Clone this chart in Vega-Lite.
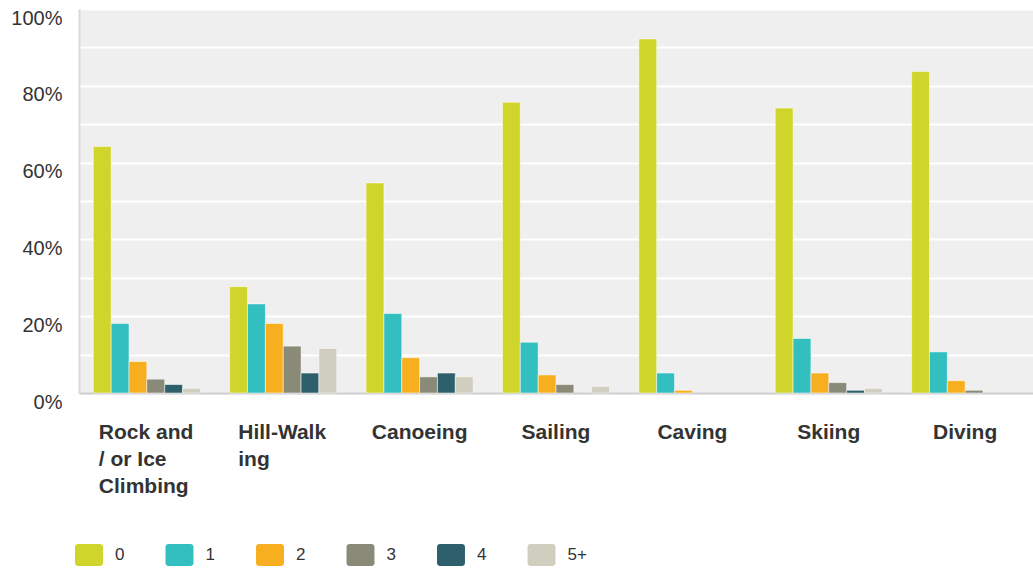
{
  "$schema": "https://vega.github.io/schema/vega-lite/v6.json",
  "width": 954,
  "height": 384,
  "autosize": {"type": "none"},
  "padding": {"left": 79, "top": 9, "right": 0, "bottom": 176},
  "background": "#ffffff",
  "config": {
    "view": {"fill": "#EFEFEF", "stroke": null},
    "font": "Liberation Sans"
  },
  "data": {
    "values": [
      {"activity": "Rock and / or Ice Climbing", "count": "0", "value": 0.642},
      {"activity": "Rock and / or Ice Climbing", "count": "1", "value": 0.181},
      {"activity": "Rock and / or Ice Climbing", "count": "2", "value": 0.082},
      {"activity": "Rock and / or Ice Climbing", "count": "3", "value": 0.036},
      {"activity": "Rock and / or Ice Climbing", "count": "4", "value": 0.022},
      {"activity": "Rock and / or Ice Climbing", "count": "5+", "value": 0.012},
      {"activity": "Hill-Walking", "count": "0", "value": 0.277},
      {"activity": "Hill-Walking", "count": "1", "value": 0.232},
      {"activity": "Hill-Walking", "count": "2", "value": 0.181},
      {"activity": "Hill-Walking", "count": "3", "value": 0.122},
      {"activity": "Hill-Walking", "count": "4", "value": 0.052},
      {"activity": "Hill-Walking", "count": "5+", "value": 0.116},
      {"activity": "Canoeing", "count": "0", "value": 0.547},
      {"activity": "Canoeing", "count": "1", "value": 0.207},
      {"activity": "Canoeing", "count": "2", "value": 0.092},
      {"activity": "Canoeing", "count": "3", "value": 0.042},
      {"activity": "Canoeing", "count": "4", "value": 0.052},
      {"activity": "Canoeing", "count": "5+", "value": 0.042},
      {"activity": "Sailing", "count": "0", "value": 0.757},
      {"activity": "Sailing", "count": "1", "value": 0.132},
      {"activity": "Sailing", "count": "2", "value": 0.047},
      {"activity": "Sailing", "count": "3", "value": 0.022},
      {"activity": "Sailing", "count": "4", "value": 0},
      {"activity": "Sailing", "count": "5+", "value": 0.017},
      {"activity": "Caving", "count": "0", "value": 0.922},
      {"activity": "Caving", "count": "1", "value": 0.052},
      {"activity": "Caving", "count": "2", "value": 0.007},
      {"activity": "Caving", "count": "3", "value": 0},
      {"activity": "Caving", "count": "4", "value": 0},
      {"activity": "Caving", "count": "5+", "value": 0},
      {"activity": "Skiing", "count": "0", "value": 0.742},
      {"activity": "Skiing", "count": "1", "value": 0.142},
      {"activity": "Skiing", "count": "2", "value": 0.052},
      {"activity": "Skiing", "count": "3", "value": 0.027},
      {"activity": "Skiing", "count": "4", "value": 0.007},
      {"activity": "Skiing", "count": "5+", "value": 0.012},
      {"activity": "Diving", "count": "0", "value": 0.837},
      {"activity": "Diving", "count": "1", "value": 0.107},
      {"activity": "Diving", "count": "2", "value": 0.032},
      {"activity": "Diving", "count": "3", "value": 0.007},
      {"activity": "Diving", "count": "4", "value": 0},
      {"activity": "Diving", "count": "5+", "value": 0}
    ]
  },
  "mark": {"type": "bar", "stroke": "#ffffff", "strokeWidth": 1},
  "encoding": {
    "x": {
      "field": "activity",
      "type": "nominal",
      "sort": null,
      "scale": {"paddingInner": 0.215, "paddingOuter": 0.105},
      "axis": {
        "title": null,
        "labelAngle": 0,
        "labelAlign": {"condition": {"test": "datum.value == 'Rock and / or Ice Climbing' || datum.value == 'Hill-Walking'", "value": "left"}, "value": "center"},
        "labelOffset": {"condition": [{"test": "datum.value == 'Rock and / or Ice Climbing'", "value": -48}, {"test": "datum.value == 'Hill-Walking'", "value": -45}], "value": 0},
        "labelBaseline": "top",
        "labelFont": "Liberation Sans",
        "labelFontSize": 21,
        "labelFontWeight": "bold",
        "labelColor": "#333333",
        "labelPadding": 28,
        "labelLineHeight": 27,
        "labelLimit": 300,
        "ticks": false,
        "domainColor": "#cccccc",
        "domainWidth": 2,
        "grid": false,
        "labelExpr": "datum.value == 'Rock and / or Ice Climbing' ? ['Rock and', '/ or Ice', 'Climbing'] : datum.value == 'Hill-Walking' ? ['Hill-Walk', 'ing'] : datum.value"
      }
    },
    "xOffset": {"field": "count", "type": "nominal", "sort": ["0", "1", "2", "3", "4", "5+"], "scale": {"paddingInner": 0, "paddingOuter": 0}},
    "y": {
      "field": "value",
      "type": "quantitative",
      "scale": {"domain": [0, 1], "nice": false, "zero": true},
      "axis": {
        "title": null,
        "values": [0, 0.1, 0.2, 0.3, 0.4, 0.5, 0.6, 0.7, 0.8, 0.9, 1],
        "labelExpr": "round(datum.value * 10) % 2 == 0 ? format(datum.value, '.0%') : ''",
        "labelFont": "Liberation Sans",
        "labelFontSize": 20,
        "labelColor": "#333333",
        "labelPadding": 17,
        "labelOffset": 9,
        "labelFlush": false,
        "labelOverlap": false,
        "ticks": false,
        "domainColor": "#d9d9d9",
        "domainWidth": 2,
        "gridColor": "#ffffff",
        "gridWidth": 2,
        "gridOpacity": 1
      }
    },
    "color": {
      "field": "count",
      "type": "nominal",
      "scale": {
        "domain": ["0", "1", "2", "3", "4", "5+"],
        "range": ["#CFD52A", "#33BEC0", "#F7AF20", "#898A78", "#2D5F6C", "#CFCEBF"]
      },
      "legend": {
        "title": null,
        "orient": "none",
        "direction": "horizontal",
        "columns": 6,
        "legendX": -1,
        "legendY": 535,
        "padding": 0,
        "symbolType": "M-1.0,-1H1.0A0.27,0.27 0 0 1 1.27,-0.73V0.73A0.27,0.27 0 0 1 1.0,1H-1.0A0.27,0.27 0 0 1 -1.27,0.73V-0.73A0.27,0.27 0 0 1 -1.0,-1Z",
        "symbolSize": 484,
        "symbolStrokeWidth": 0,
        "symbolOpacity": 1,
        "labelFont": "Liberation Sans",
        "labelFontSize": 17,
        "labelColor": "#333333",
        "labelOffset": 15,
        "columnPadding": 40.5
      }
    },
    "strokeOpacity": {"condition": {"test": "datum.value > 0", "value": 0.5}, "value": 0}
  }
}
